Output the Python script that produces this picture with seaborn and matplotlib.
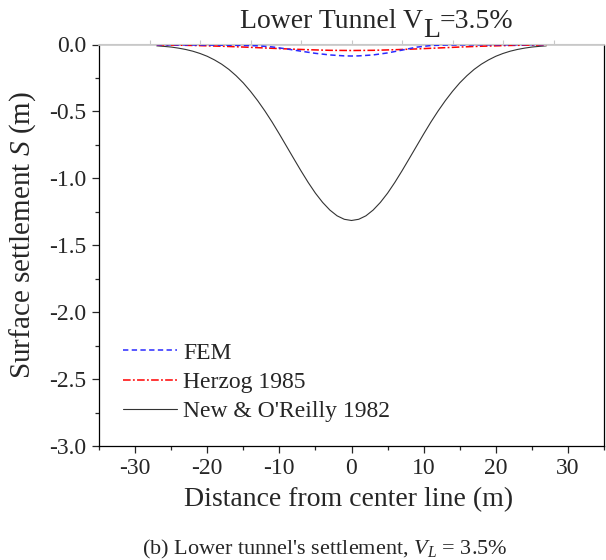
import numpy as np
import pandas as pd
import matplotlib.pyplot as plt
import seaborn as sns
from matplotlib.ticker import MultipleLocator

# values
x_new = [-27, -26, -25, -24, -23, -22, -21, -20, -19, -18, -17, -16, -15, -14,
         -13, -12, -11, -10, -9, -8, -7, -6, -5, -4, -3, -2, -1, 0,
         1, 2, 3, 4, 5, 6, 7, 8, 9, 10, 11, 12, 13, 14,
         15, 16, 17, 18, 19, 20, 21, 22, 23, 24, 25, 26, 27]
s_new = [-0.010, -0.014, -0.019, -0.027, -0.037, -0.050, -0.067, -0.088, -0.115,
         -0.147, -0.186, -0.233, -0.287, -0.350, -0.420, -0.497, -0.580, -0.669,
         -0.761, -0.853, -0.944, -1.031, -1.111, -1.180, -1.237, -1.280, -1.306,
         -1.315,
         -1.306, -1.280, -1.237, -1.180, -1.111, -1.031, -0.944, -0.853, -0.761,
         -0.669, -0.580, -0.497, -0.420, -0.350, -0.287, -0.233, -0.186, -0.147,
         -0.115, -0.088, -0.067, -0.050, -0.037, -0.027, -0.019, -0.014, -0.010]

x_fem = [-27, -24, -21, -18, -15, -13, -11, -9, -7, -5, -3, -1, 0,
         1, 3, 5, 7, 9, 11, 13, 15, 18, 21, 24, 27]
s_fem = [-0.002, -0.003, -0.004, -0.005, -0.007, -0.010, -0.018, -0.033, -0.050,
         -0.066, -0.078, -0.085, -0.086,
         -0.085, -0.078, -0.063, -0.042, -0.020, -0.008, -0.004, -0.003, -0.002,
         -0.002, -0.001, -0.001]

x_her = [-27, -24, -21, -18, -15, -12, -9, -6, -3, 0,
         3, 6, 9, 12, 15, 18, 21, 24, 27]
s_her = [-0.003, -0.005, -0.0085, -0.013, -0.019, -0.026, -0.033, -0.039, -0.0435, -0.045,
         -0.0435, -0.039, -0.033, -0.026, -0.019, -0.013, -0.0085, -0.005, -0.003]

top_ticks = [-28, -21, -14, -7, 0, 7, 14, 21, 28]

sns.set_style("ticks")
plt.rcParams['font.family'] = ['Liberation Serif', 'DejaVu Serif']
plt.rcParams['mathtext.fontset'] = 'custom'
plt.rcParams['mathtext.rm'] = 'Liberation Serif'
plt.rcParams['mathtext.it'] = 'Liberation Serif:italic'

W, H = 606, 560
fig = plt.figure(figsize=(6.06, 5.6), dpi=100)
ax = fig.add_axes([99/W, 1-446/H, 505/W, 401.5/H])

sns.lineplot(x=x_new, y=s_new, ax=ax, color='#333333', lw=0.8,
             label="New & O'Reilly 1982", zorder=2)
sns.lineplot(x=x_her, y=s_her, ax=ax, color='red', lw=1.1,
             linestyle=(0, (5, 1.5, 1.2, 1.5)), label='Herzog 1985', zorder=3)
sns.lineplot(x=x_fem, y=s_fem, ax=ax, color='#2a2aff', lw=1.1,
             linestyle=(0, (3.5, 2.2)), label='FEM', zorder=4)

ax.set_xlim(-35, 35)
ax.set_ylim(-3.0, 0.0)
ax.xaxis.set_major_locator(MultipleLocator(10))
ax.xaxis.set_minor_locator(MultipleLocator(5))
ax.yaxis.set_major_locator(MultipleLocator(0.5))
ax.yaxis.set_minor_locator(MultipleLocator(0.25))
ax.tick_params(which='major', direction='out', length=5, width=0.9,
               labelsize=17, top=False, right=False, pad=4)
ax.tick_params(which='minor', direction='out', length=2.8, width=0.9,
               top=False, right=False)
ax.yaxis.set_major_formatter(plt.FuncFormatter(lambda v, p: f"{v:.1f}"))
ax.xaxis.set_major_formatter(plt.FuncFormatter(lambda v, p: f"{v:.0f}"))

for side in ['left', 'bottom', 'right']:
    ax.spines[side].set_color('black')
    ax.spines[side].set_linewidth(0.9)
ax.spines['top'].set_color('#c8c8c8')
ax.spines['top'].set_linewidth(1.2)

sec = ax.secondary_xaxis('top')
sec.set_xticks(top_ticks)
sec.tick_params(direction='out', length=3, color='#c8c8c8', labeltop=False)
sec.spines['top'].set_color('#c8c8c8')

ax.set_xlabel('Distance from center line (m)', fontsize=20)
ax.set_ylabel('Surface settlement $S$ (m)', fontsize=21)
ax.xaxis.set_label_coords(0.495, (446-487)/401.5)
ax.yaxis.set_label_coords((38-99)/505, (446-235)/401.5)

handles, labels = ax.get_legend_handles_labels()
order = [2, 1, 0]
ax.legend([handles[i] for i in order], [labels[i] for i in order],
          loc='lower left', bbox_to_anchor=((123-99)/505, 0.06), frameon=False,
          borderpad=0, borderaxespad=0, fontsize=17, handlelength=2.3,
          handletextpad=0.25, labelspacing=0.32)

# title with a full-size lowered subscript, as in the reference
ty = 1 - 28/H
fig.text(423/W, ty, 'Lower Tunnel V', fontsize=20, ha='right', va='baseline')
fig.text(423/W, 1 - 37/H, 'L', fontsize=20, ha='left', va='baseline')
fig.text(440/W, ty, '=3.5%', fontsize=20, ha='left', va='baseline')

fig.text(325/W, 1-549/H, r"(b) Lower tunnel's settlement, $V_L$ = 3.5%",
         fontsize=16, ha='center', va='center')

fig.savefig('out.png', dpi=100)
